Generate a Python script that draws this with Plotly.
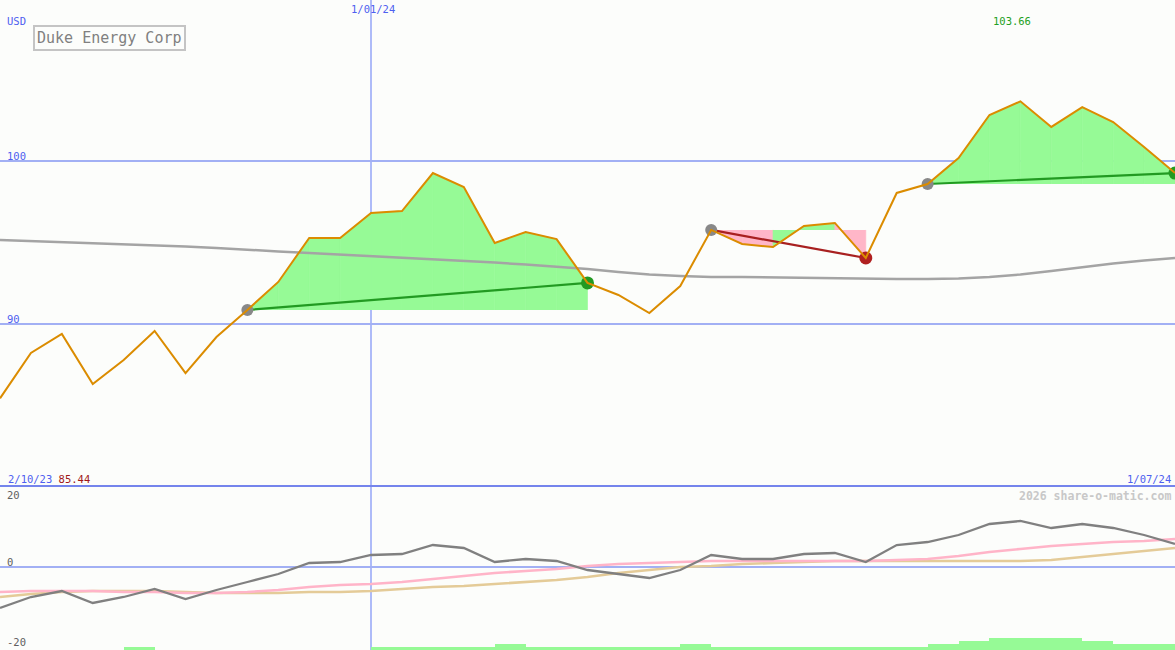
import pandas as pd
import plotly.graph_objects as go

# ---------------- data ----------------
dates = pd.date_range("2023-10-09", periods=39, freq="7D")

price = [85.44, 88.22, 89.39, 86.32, 87.79, 89.57, 86.99, 89.20, 90.86, 92.58,
         95.28, 95.28, 96.81, 96.93, 99.26, 98.40, 94.97, 95.64, 95.21, 92.52,
         91.78, 90.67, 92.33, 95.77, 94.91, 94.72, 96.01, 96.20, 94.05, 98.04,
         98.59, 100.18, 102.82, 103.66, 102.09, 103.31, 102.39, 100.86, 99.26]

ma_long = [95.15, 95.09, 95.03, 94.97, 94.91, 94.85, 94.75, 94.66, 94.54, 94.45,
           94.36, 94.26, 94.17, 94.08, 93.99, 93.90, 93.77, 93.65, 93.53, 93.37,
           93.19, 93.04, 92.94, 92.88, 92.88, 92.85, 92.85, 92.82, 92.79, 92.76,
           92.76, 92.79, 92.88, 93.04, 93.25, 93.50, 93.71, 93.90, 94.05]

osc = [-10.25, -7.5, -6.0, -9.0, -7.5, -5.5, -8.0, -5.75, -3.75, -1.75,
       1.0, 1.25, 3.0, 3.25, 5.5, 4.75, 1.25, 2.0, 1.5, -0.75,
       -1.75, -2.75, -0.75, 3.0, 2.0, 2.0, 3.25, 3.5, 1.25, 5.5,
       6.25, 8.0, 10.75, 11.5, 9.75, 10.75, 9.75, 8.0, 5.75]

osc_fast = [-6.25, -6.0, -6.0, -6.0, -6.25, -6.25, -6.5, -6.5, -6.25, -5.75,
            -5.0, -4.5, -4.25, -3.75, -3.0, -2.25, -1.5, -1.0, -0.5, 0.25,
            0.75, 1.0, 1.25, 1.5, 1.5, 1.5, 1.5, 1.5, 1.5, 1.75,
            2.0, 2.75, 3.75, 4.5, 5.25, 5.75, 6.25, 6.5, 7.0]

osc_slow = [-7.5, -6.75, -6.25, -6.0, -6.0, -6.0, -6.25, -6.5, -6.5, -6.5,
            -6.25, -6.25, -6.0, -5.5, -5.0, -4.75, -4.25, -3.75, -3.25, -2.5,
            -1.5, -0.75, 0.0, 0.25, 0.75, 1.0, 1.25, 1.5, 1.5, 1.5,
            1.5, 1.5, 1.5, 1.5, 1.75, 2.5, 3.25, 4.0, 4.75]

# weekly bar levels (one per interval between points)
vol_level = [0, 0, 0, 0, 1, 0, 0, 0, 0, 0, 0, 0, 1, 1, 1, 1, 2, 1, 1, 1,
             1, 1, 2, 1, 1, 1, 1, 1, 1, 1, 2, 3, 4, 4, 4, 3, 2, 2]

trades = [(8, 19), (23, 28), (30, 38)]   # (entry index, exit index)

x_label_date = "2024-01-01"
x_label_text = "1/01/24"
start_label = "2/10/23"
end_label = "1/07/24"
price_ticks = [90, 100]
osc_ticks = [20, 0, -20]

# ---------------- style ----------------
W, H = 1175, 650
BG = "#FCFDFB"
BLUE_TXT = "#4E60F0"
GRID = "#A2B0F4"
VGRID = "#AEBBF8"
SEP = "#7484EC"
FONT = "DejaVu Sans Mono"
GREEN_FILL = "#96FA96"
PINK_FILL = "#FFB6C8"
ORANGE = "#DB8C00"
OSC_BOTTOM = -20.75
BAR_UNIT = 0.75
WEEK_MS = 7 * 86400000

fig = go.Figure()

# trade fills
for a, b in trades:
    e = price[a]
    for i in range(a, b):
        col = GREEN_FILL if price[i + 1] >= e else PINK_FILL
        fig.add_trace(go.Scatter(
            x=[dates[i], dates[i], dates[i + 1], dates[i + 1]],
            y=[e, price[i], price[i + 1], e],
            fill="toself", fillcolor=col, mode="lines",
            line=dict(width=0.6, color=col), hoverinfo="skip",
            showlegend=False, xaxis="x", yaxis="y"))

# long moving average
fig.add_trace(go.Scatter(x=dates, y=ma_long, mode="lines",
                         line=dict(color="#A4A4A4", width=2.5),
                         showlegend=False, xaxis="x", yaxis="y"))

# trade lines and markers
for a, b in trades:
    win = price[b] >= price[a]
    lc = "#229A22" if win else "#A82020"
    fig.add_trace(go.Scatter(x=[dates[a], dates[b]], y=[price[a], price[b]],
                             mode="lines", line=dict(color=lc, width=2.2),
                             showlegend=False, xaxis="x", yaxis="y"))
for a, b in trades:
    win = price[b] >= price[a]
    mc = "#229A22" if win else "#B02020"
    fig.add_trace(go.Scatter(x=[dates[a]], y=[price[a]], mode="markers",
                             marker=dict(color="#888888", size=12),
                             showlegend=False, xaxis="x", yaxis="y"))
    fig.add_trace(go.Scatter(x=[dates[b]], y=[price[b]], mode="markers",
                             marker=dict(color=mc, size=13),
                             showlegend=False, xaxis="x", yaxis="y"))

# price line
fig.add_trace(go.Scatter(x=dates, y=price, mode="lines",
                         line=dict(color=ORANGE, width=2),
                         showlegend=False, xaxis="x", yaxis="y"))

# lower panel: bars
bar_x = [dates[i] + pd.Timedelta(hours=84) for i in range(len(vol_level))]
fig.add_trace(go.Bar(x=bar_x, y=[v * BAR_UNIT for v in vol_level],
                     base=OSC_BOTTOM, width=WEEK_MS,
                     marker=dict(color=GREEN_FILL, line=dict(width=0)),
                     showlegend=False, xaxis="x2", yaxis="y2"))
fig.add_trace(go.Scatter(x=dates, y=osc_slow, mode="lines",
                         line=dict(color="#E4CB98", width=2.6),
                         showlegend=False, xaxis="x2", yaxis="y2"))
fig.add_trace(go.Scatter(x=dates, y=osc_fast, mode="lines",
                         line=dict(color="#FFB4C8", width=2.6),
                         showlegend=False, xaxis="x2", yaxis="y2"))
fig.add_trace(go.Scatter(x=dates, y=osc, mode="lines",
                         line=dict(color="#808080", width=2.3),
                         showlegend=False, xaxis="x2", yaxis="y2"))

split = 163 / H
xr = [dates[0], dates[-1]]

fig.update_layout(
    width=W, height=H, margin=dict(l=0, r=0, t=0, b=0),
    paper_bgcolor=BG, plot_bgcolor=BG, bargap=0,
    xaxis=dict(domain=[0, 1], range=xr, type="date", anchor="y",
               tickvals=[x_label_date], showticklabels=False, ticks="",
               showgrid=True, gridcolor=VGRID, gridwidth=2,
               zeroline=False, showline=False),
    xaxis2=dict(domain=[0, 1], range=xr, type="date", anchor="y2",
                matches="x", side="top",
                tickvals=[x_label_date], showticklabels=False, ticks="",
                showgrid=True, gridcolor=VGRID, gridwidth=2,
                zeroline=False, showline=True, linecolor=SEP, linewidth=2),
    yaxis=dict(domain=[split, 1], range=[80, 100 + 161 / 16.3],
               tickvals=price_ticks, showticklabels=False, ticks="",
               showgrid=True, gridcolor=GRID, gridwidth=2, zeroline=False),
    yaxis2=dict(domain=[0, split], range=[OSC_BOTTOM, 20],
                tickvals=[0], showticklabels=False, ticks="",
                showgrid=True, gridcolor=GRID, gridwidth=2, zeroline=False),
)


def px(x, y):
    return x / W, 1 - y / H


annots = []


def label(text, x, y, color, size=10.5, xanchor="left", yanchor="middle", **kw):
    xp, yp = px(x, y)
    annots.append(dict(text=text, x=xp, y=yp, xref="paper", yref="paper",
                       xanchor=xanchor, yanchor=yanchor, showarrow=False,
                       font=dict(family=FONT, size=size, color=color), **kw))


label("USD", 5, 21, BLUE_TXT)
label(x_label_text, 373, 9, BLUE_TXT, xanchor="center")
label(str(price_ticks[1]), 5, 156, BLUE_TXT)
label(str(price_ticks[0]), 5, 319, BLUE_TXT)
label(f"<span style='color:{BLUE_TXT}'>{start_label}</span> "
      f"<span style='color:#A01818'>{min(price):.2f}</span>", 6, 479, BLUE_TXT)
label(end_label, 1173, 479, BLUE_TXT, xanchor="right")
label("<b>2026 share-o-matic.com</b>", 1173, 496, "#C8C8C8", size=11.5,
      xanchor="right")
label(str(osc_ticks[0]), 5, 495, "#606060")
label(str(osc_ticks[1]), 5, 562, "#606060")
label(str(osc_ticks[2]), 5, 642, "#606060")
label("Duke Energy Corp", 33, 25, "#808080", size=15, yanchor="top",
      bordercolor="#C4C4C4", borderwidth=2, borderpad=2, bgcolor=BG)

imax = price.index(max(price))
annots.append(dict(text=f"{max(price):.2f}", x=dates[imax], y=1 - 21 / H,
                   xref="x", yref="paper", xanchor="center", yanchor="middle",
                   xshift=-8, showarrow=False,
                   font=dict(family=FONT, size=10.5, color="#22A022")))

fig.update_layout(annotations=annots)

fig.write_html("out.html", config={"displayModeBar": False},
               post_script="document.body.style.margin='0';"
                           "document.body.style.padding='0';"
                           "document.body.style.overflow='hidden';")
